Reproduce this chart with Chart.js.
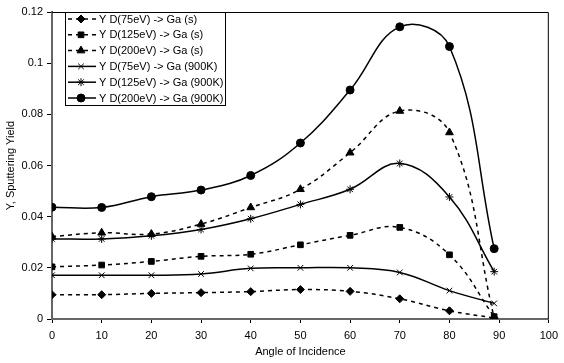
<!DOCTYPE html>
<html>
<head>
<meta charset="utf-8">
<script src="https://cdn.jsdelivr.net/npm/chart.js@4.4.1/dist/chart.umd.min.js"></script>
<style>
  html, body { margin: 0; padding: 0; background: #fff; }
  #wrap { width: 564px; height: 363px; position: relative; }
</style>
</head>
<body>
<div id="wrap"><canvas id="chart"></canvas></div>
<script>
// angles of incidence (deg)
const angles = [0, 10, 20, 30, 40, 50, 60, 70, 80, 89];

const seriesLabels = [
  "Y D(75eV) -> Ga (s)",
  "Y D(125eV) -> Ga (s)",
  "Y D(200eV) -> Ga (s)",
  "Y D(75eV) -> Ga (900K)",
  "Y D(125eV) -> Ga (900K)",
  "Y D(200eV) -> Ga (900K)"
];

const d75s = [0.0095, 0.0095, 0.0100, 0.0103, 0.0107, 0.0115, 0.0108, 0.0079, 0.0032, 0.0004];
const d125s = [0.0204, 0.0211, 0.0225, 0.0245, 0.0253, 0.0290, 0.0327, 0.0358, 0.0251, 0.0009];
const d200s = [0.0322, 0.0337, 0.0332, 0.0371, 0.0436, 0.0507, 0.0650, 0.0813, 0.0729, 0.0005];
const d75hot = [0.0171, 0.0171, 0.0171, 0.0176, 0.0198, 0.0200, 0.0200, 0.0182, 0.0111, 0.0061];
const d125hot = [0.0313, 0.0313, 0.0325, 0.0350, 0.0392, 0.0448, 0.0507, 0.0608, 0.0477, 0.0185];
const d200hot = [0.0437, 0.0436, 0.0478, 0.0504, 0.0561, 0.0688, 0.0895, 0.1142, 0.1065, 0.0275];

const yTicks = [0, 0.02, 0.04, 0.06, 0.08, 0.1, 0.12];

const pts = (vals) => vals.map((v, i) => ({ x: angles[i], y: v }));

const makeSet = (label, vals, pointStyle, dashed, radius) => ({
  label,
  data: pts(vals),
  borderColor: "#000",
  backgroundColor: "#000",
  borderWidth: 1.5,
  borderDash: dashed ? [4, 4] : [],
  tension: 0.4,
  pointStyle,
  pointRadius: radius,
  pointBorderWidth: 1,
  pointBorderColor: "#000",
  pointBackgroundColor: "#000"
});

const datasets = [
  makeSet(seriesLabels[0], d75s, "rectRot", true, 4),
  makeSet(seriesLabels[1], d125s, "rect", true, 4),
  makeSet(seriesLabels[2], d200s, "triangle", true, 4.5),
  makeSet(seriesLabels[3], d75hot, "crossRot", false, 4),
  makeSet(seriesLabels[4], d125hot, "star", false, 4),
  makeSet(seriesLabels[5], d200hot, "circle", false, 4)
];

// frame + legend box drawn inside the plot area
const frameLegend = {
  id: "frameLegend",
  afterDraw(chart) {
    const { ctx, chartArea: a } = chart;
    ctx.save();
    ctx.strokeStyle = "#000";
    ctx.lineWidth = 1;
    ctx.beginPath();
    ctx.moveTo(a.left, a.top + 0.5);
    ctx.lineTo(a.right - 0.5, a.top + 0.5);
    ctx.lineTo(a.right - 0.5, a.bottom);
    ctx.stroke();

    const bx = 65.5, by = 12.5, bw = 160, bh = 93;
    ctx.fillStyle = "#fff";
    ctx.fillRect(bx, by, bw, bh);
    ctx.strokeRect(bx, by, bw, bh);

    ctx.font = "11px 'Liberation Sans', Arial, sans-serif";
    ctx.textBaseline = "middle";
    chart.data.datasets.forEach((ds, i) => {
      const y = 19 + i * 15.8;
      ctx.strokeStyle = "#000";
      ctx.fillStyle = "#000";
      ctx.lineWidth = 1.5;
      ctx.setLineDash(ds.borderDash);
      ctx.beginPath();
      ctx.moveTo(68, y);
      ctx.lineTo(96, y);
      ctx.stroke();
      ctx.setLineDash([]);
      ctx.lineWidth = 1;
      Chart.helpers.drawPoint(ctx, { pointStyle: ds.pointStyle, radius: ds.pointRadius, rotation: 0, borderWidth: 1 }, 81, y);
      ctx.fillText(ds.label, 99, y + 0.5);
    });
    ctx.restore();
  }
};

new Chart(document.getElementById("chart"), {
  type: "line",
  data: { datasets },
  options: {
    responsive: true,
    maintainAspectRatio: false,
    animation: false,
    layout: { padding: { left: 0, top: 12, right: 8, bottom: 0 } },
    plugins: { legend: { display: false }, tooltip: { enabled: false } },
    scales: {
      x: {
        type: "linear",
        min: 0,
        max: 100,
        ticks: { stepSize: 10, color: "#000", font: { family: "'Liberation Sans', Arial", size: 11 }, padding: 6, maxRotation: 0 },
        grid: { drawOnChartArea: false, drawTicks: true, tickLength: 4, color: "#000" },
        border: { color: "#666", width: 2 },
        title: { display: true, text: "Angle of Incidence", color: "#000", font: { family: "'Liberation Sans', Arial", size: 11 }, padding: { top: 6 } },
        afterFit: (scale) => { scale.height = 44; }
      },
      y: {
        min: 0,
        max: 0.12,
        afterBuildTicks: (scale) => { scale.ticks = yTicks.map((v) => ({ value: v })); },
        ticks: {
          color: "#000",
          font: { family: "'Liberation Sans', Arial", size: 11 },
          padding: 4,
          callback: (v) => String(+Number(v).toFixed(2))
        },
        grid: { drawOnChartArea: false, drawTicks: true, tickLength: 5, color: "#000" },
        border: { color: "#666", width: 2 },
        title: { display: true, text: "Y, Sputtering Yield", color: "#000", font: { family: "'Liberation Sans', Arial", size: 11 }, padding: { bottom: 2 } },
        afterFit: (scale) => { scale.width = 52; }
      }
    }
  },
  plugins: [frameLegend]
});
</script>
</body>
</html>
